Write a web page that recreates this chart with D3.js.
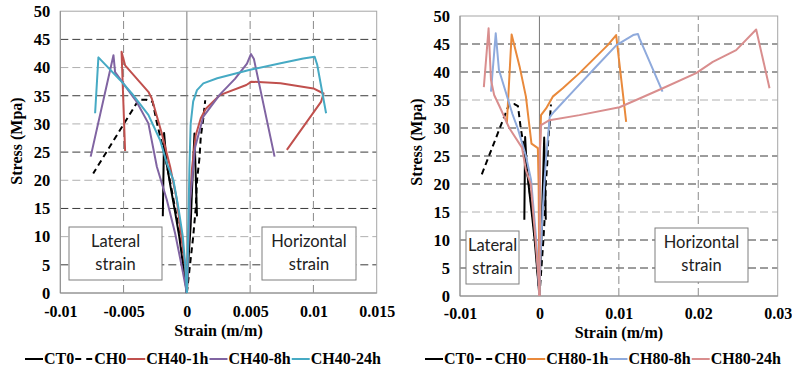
<!DOCTYPE html>
<html><head><meta charset="utf-8">
<script src="https://cdn.jsdelivr.net/npm/d3@7"></script>
<style>body{margin:0;background:#fff} svg{display:block}</style>
</head><body>
<svg id="c" width="792" height="373"></svg>
<script>
// ---------- tick labels ----------
const yTicks = [0,5,10,15,20,25,30,35,40,45,50];
const xTicksLeft = [-0.01,-0.005,0,0.005,0.01,0.015];
const xLabelsLeft = ["-0.01","-0.005","0","0.005","0.01","0.015"];
const xTicksRight = [-0.01,0,0.01,0.02,0.03];
const xLabelsRight = ["-0.01","0","0.01","0.02","0.03"];
const legendLeft = ["CT0","CH0","CH40-1h","CH40-8h","CH40-24h"];
const legendRight = ["CT0","CH0","CH80-1h","CH80-8h","CH80-24h"];

// ---------- data: [strain, stress] ----------
const CT0_lat = [[0,0],[-0.0003,5],[-0.0006,10],[-0.0009,14],[-0.0013,19],[-0.0016,23],[-0.0018,28.4],[-0.0019,13.6]];
const CT0_hor = [[0,0],[0.0001,5],[0.0003,12],[0.0004,18],[0.0005,23],[0.0006,28.3],[0.0008,13.6]];
const CH0_lat = [[0,0],[-0.0004,7.6],[-0.0008,13.5],[-0.0013,19.5],[-0.0017,24],[-0.0024,30.5],[-0.0027,33.9],[-0.0032,34.3],[-0.0038,34.3],[-0.0074,21.2]];
const CH0_hor = [[0,0],[0.0003,6],[0.0005,10],[0.0007,15],[0.0008,20],[0.001,24],[0.0011,27.7],[0.0013,31],[0.00145,34.2]];

const CH40_1h_lat = [[0,0],[-0.00013,4.7],[-0.00047,10.6],[-0.00079,16.5],[-0.00132,22.4],[-0.00198,28.3],[-0.00277,34.5],[-0.00304,35.7],[-0.00488,40.4],[-0.00516,42.8],[-0.00488,25.2]];
const CH40_1h_hor = [[0,0],[0.0001,8],[0.0002,15],[0.0004,22],[0.0007,28],[0.0011,31],[0.0015,32.7],[0.0026,35.1],[0.0047,36.9],[0.0051,37.5],[0.0074,37.2],[0.01,36.3],[0.0108,35.4],[0.0106,33.9],[0.0079,25.4]];
const CH40_8h_lat = [[0,0],[-0.0004,4.7],[-0.00093,10.6],[-0.00158,16.5],[-0.00237,22.4],[-0.00304,30.1],[-0.00396,33.9],[-0.00567,39.2],[-0.0058,42.2],[-0.0076,24.2]];
const CH40_8h_hor = [[0,0],[0.0001,8],[0.00026,16.5],[0.00066,25.9],[0.0013,31.3],[0.0026,35.2],[0.0038,38],[0.00475,40.7],[0.00506,42.4],[0.0053,41.5],[0.00693,24.2]];
const CH40_24h_lat = [[0,0],[-0.00013,5],[-0.00032,10],[-0.00066,15],[-0.00106,20],[-0.00158,23],[-0.00211,27.1],[-0.00304,31.6],[-0.00435,35.4],[-0.00528,37.8],[-0.00699,41.8],[-0.00725,31.9]];
const CH40_24h_hor = [[0,0],[0.0001,10],[0.0002,22],[0.0003,30],[0.0005,34],[0.0008,36],[0.0013,37.2],[0.0024,38.1],[0.005,39.6],[0.0075,40.8],[0.0092,41.6],[0.0101,41.9],[0.0103,40.5],[0.011,31.9]];

const CH80_1h_lat = [[0,0],[-0.0001,20],[-0.0002,26.4],[-0.001,27.2],[-0.0017,35.6],[-0.0025,41],[-0.0035,46.7],[-0.0041,30.8]];
const CH80_1h_hor = [[0,0],[0.00005,26],[0.0002,32.3],[0.00084,33.5],[0.00168,35.6],[0.00294,37.1],[0.00504,39.8],[0.0086,44.8],[0.00966,46.6],[0.01092,31.1]];
const CH80_8h_lat = [[0,0],[-0.0004,10],[-0.00105,20.7],[-0.0017,25],[-0.0027,29.8],[-0.0034,32.5],[-0.004,35.3],[-0.0051,40.4],[-0.0055,46.9],[-0.0061,36.5]];
const CH80_8h_hor = [[0,0],[0.0001,6],[0.0004,15],[0.0008,24],[0.0013,32],[0.0019,33],[0.0042,36.5],[0.0071,40.9],[0.0097,44.8],[0.0118,46.6],[0.0124,46.8],[0.0126,46],[0.0155,36.5]];
const CH80_24h_lat = [[0,0],[-0.0001,3],[-0.0006,11.8],[-0.0011,20],[-0.0017,22.5],[-0.0022,26.5],[-0.0038,30],[-0.005,33.8],[-0.0057,35.9],[-0.0061,38.6],[-0.0064,47.8],[-0.007,37.3]];
const CH80_24h_hor = [[0,0],[0.00005,25],[0.0002,30.5],[0.00126,31.4],[0.00504,32.3],[0.01008,33.7],[0.01218,35],[0.01553,37.1],[0.01973,39.8],[0.02183,41.8],[0.02477,43.9],[0.02729,47.6],[0.02897,37.1]];

// ---------- styles ----------
const colors = {
  "CT0":"#000000","CH0":"#000000",
  "CH40-1h":"#C0504D","CH40-8h":"#8064A2","CH40-24h":"#46AAC4",
  "CH80-1h":"#E9893B","CH80-8h":"#8FAADC","CH80-24h":"#D98E8E"
};
const dashed = {"CH0":"6,4"};
const serif = "'Liberation Serif','Times New Roman',serif";
const sans = "Lato,'Open Sans',sans-serif";
const FS = "16px";

const svg = d3.select("#c");

function drawChart(cfg){
  const g = svg.append("g");
  const x = d3.scaleLinear().domain([cfg.xTicks[0], cfg.xTicks[cfg.xTicks.length-1]]).range([cfg.x0, cfg.x1]);
  const y = d3.scaleLinear().domain([0,50]).range([cfg.y0, cfg.y1]);

  // horizontal grid
  g.selectAll(".hg").data(yTicks.filter(v=>v>0 && v<50)).enter().append("line")
    .attr("x1",cfg.x0).attr("x2",cfg.x1)
    .attr("y1",d=>y(d)).attr("y2",d=>y(d))
    .attr("stroke",d=>cfg.lightY.includes(d)?"#b0b0b0":"#3a3a3a")
    .attr("stroke-width",1).attr("stroke-dasharray","8,4");
  // vertical grid
  g.selectAll(".vg").data(cfg.xTicks.filter((v,i)=>i>0 && i<cfg.xTicks.length-1 && v!==0)).enter().append("line")
    .attr("x1",d=>x(d)).attr("x2",d=>x(d))
    .attr("y1",cfg.y0).attr("y2",cfg.y1)
    .attr("stroke","#8a8a8a").attr("stroke-width",1).attr("stroke-dasharray","8,4");
  // zero line
  g.append("line").attr("x1",x(0)).attr("x2",x(0)).attr("y1",cfg.y0).attr("y2",cfg.y1)
    .attr("stroke","#7a7a7a").attr("stroke-width",1);
  // frame
  g.append("rect").attr("x",cfg.x0).attr("y",cfg.y1).attr("width",cfg.x1-cfg.x0).attr("height",cfg.y0-cfg.y1)
    .attr("fill","none").attr("stroke","#a6a6a6").attr("stroke-width",1);
  g.append("line").attr("x1",cfg.x0).attr("x2",cfg.x0).attr("y1",cfg.y0).attr("y2",cfg.y1).attr("stroke","#8c8c8c");
  g.append("line").attr("x1",cfg.x0).attr("x2",cfg.x1).attr("y1",cfg.y0).attr("y2",cfg.y0).attr("stroke","#8c8c8c");

  // axes labels
  const ya = d3.axisLeft(y).tickValues(yTicks).tickSize(0).tickPadding(10).tickFormat(d3.format("d"));
  const yg = g.append("g").attr("transform",`translate(${cfg.x0},0)`).call(ya);
  yg.select(".domain").remove();
  yg.selectAll("text").attr("font-family",serif).attr("font-weight","bold").attr("font-size","16.5px").attr("fill","#000");

  const xa = d3.axisBottom(x).tickValues(cfg.xTicks).tickSize(0).tickPadding(cfg.xPad).tickFormat((d,i)=>cfg.xLabels[i]);
  const xg = g.append("g").attr("transform",`translate(0,${cfg.y0})`).call(xa);
  xg.select(".domain").remove();
  xg.selectAll("text").attr("font-family",serif).attr("font-weight","bold").attr("font-size",FS).attr("fill","#000");

  g.append("text").attr("x",(cfg.x0+cfg.x1)/2).attr("y",cfg.xTitleY).attr("text-anchor","middle")
    .attr("font-family",serif).attr("font-weight","bold").attr("font-size",FS).text("Strain (m/m)");
  g.append("text").attr("transform",`translate(${cfg.yTitleX},${cfg.yTitleC}) rotate(-90)`).attr("text-anchor","middle")
    .attr("font-family",serif).attr("font-weight","bold").attr("font-size",FS).text("Stress (Mpa)");

  // text boxes
  cfg.boxes.forEach(b=>{
    g.append("rect").attr("x",b.x).attr("y",b.y).attr("width",b.w).attr("height",b.h)
      .attr("fill","#fff").attr("stroke","#7f7f7f").attr("stroke-width",1);
    b.lines.forEach((t,i)=>{
      g.append("text").attr("x",b.x+b.w/2).attr("y",b.base+i*23).attr("text-anchor","middle")
        .attr("font-family",sans).attr("font-size","16.5px").attr("fill","#222").text(t);
    });
  });

  // series
  const line = d3.line().x(d=>x(d[0])).y(d=>y(d[1]));
  const clipId = "clip"+cfg.id;
  svg.append("clipPath").attr("id",clipId).append("rect")
    .attr("x",cfg.x0).attr("y",cfg.y1).attr("width",cfg.x1-cfg.x0).attr("height",cfg.y0-cfg.y1+1);
  const sg = g.append("g").attr("clip-path",`url(#${clipId})`);
  cfg.series.forEach(s=>{
    [s.lat, s.hor].forEach(arr=>{
      sg.append("path").datum(arr).attr("d",line).attr("fill","none")
        .attr("stroke",colors[s.name]).attr("stroke-width",2)
        .attr("stroke-dasharray",dashed[s.name]||null).attr("stroke-linejoin","round");
    });
  });

  // legend
  const lg = g.append("g");
  let cx = cfg.legX;
  cfg.legend.forEach(name=>{
    const sampleLen = 18;
    lg.append("line").attr("x1",cx).attr("x2",cx+sampleLen).attr("y1",cfg.legY-5).attr("y2",cfg.legY-5)
      .attr("stroke",colors[name]).attr("stroke-width",2).attr("stroke-dasharray",dashed[name]?"6,5":null);
    const t = lg.append("text").attr("x",cx+sampleLen+1).attr("y",cfg.legY)
      .attr("font-family",serif).attr("font-weight","bold").attr("font-size","16px").text(name);
    cx += sampleLen + 1 + t.node().getComputedTextLength() + 1;
  });
}

drawChart({
  id:"L", x0:60.3, x1:376.7, y0:293, y1:11.2,
  xTicks:xTicksLeft, xLabels:xLabelsLeft, xPad:12.5, xTitleY:336, yTitleX:22, yTitleC:141,
  lightY:[10,20,30,40],
  boxes:[{x:69,y:227,w:93,h:53,base:247,lines:["Lateral","strain"]},
         {x:262,y:227,w:94,h:53,base:247,lines:["Horizontal","strain"]}],
  series:[
    {name:"CT0",lat:CT0_lat,hor:CT0_hor},
    {name:"CH0",lat:CH0_lat,hor:CH0_hor},
    {name:"CH40-1h",lat:CH40_1h_lat,hor:CH40_1h_hor},
    {name:"CH40-8h",lat:CH40_8h_lat,hor:CH40_8h_hor},
    {name:"CH40-24h",lat:CH40_24h_lat,hor:CH40_24h_hor}
  ],
  legend:legendLeft, legX:25, legY:364
});

drawChart({
  id:"R", x0:460, x1:777.7, y0:296, y1:16,
  xTicks:xTicksRight, xLabels:xLabelsRight, xPad:11.5, xTitleY:337.5, yTitleX:422, yTitleC:142,
  lightY:[15,35],
  boxes:[{x:466,y:231,w:53,h:53,base:251,lines:["Lateral","strain"]},
         {x:655,y:228,w:93,h:54,base:248,lines:["Horizontal","strain"]}],
  series:[
    {name:"CT0",lat:CT0_lat,hor:CT0_hor},
    {name:"CH0",lat:CH0_lat,hor:CH0_hor},
    {name:"CH80-1h",lat:CH80_1h_lat,hor:CH80_1h_hor},
    {name:"CH80-8h",lat:CH80_8h_lat,hor:CH80_8h_hor},
    {name:"CH80-24h",lat:CH80_24h_lat,hor:CH80_24h_hor}
  ],
  legend:legendRight, legX:425, legY:364
});
</script>
</body></html>
